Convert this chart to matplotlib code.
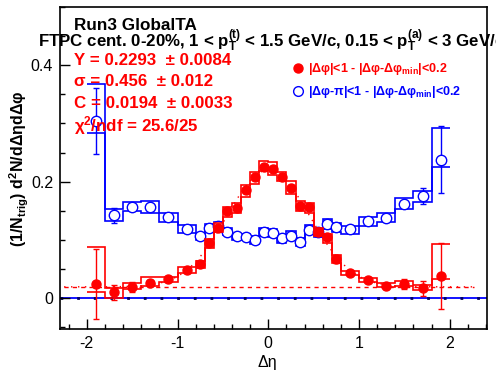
import numpy as np
import matplotlib
matplotlib.use('Agg')
import matplotlib.pyplot as plt
from matplotlib.lines import Line2D
from matplotlib.ticker import MultipleLocator, FuncFormatter

plt.rcParams['font.family'] = ['Liberation Sans', 'DejaVu Sans']
plt.rcParams['mathtext.fontset'] = 'custom'
plt.rcParams['mathtext.rm'] = 'Liberation Sans'
plt.rcParams['mathtext.bf'] = 'Liberation Sans:bold'
plt.rcParams['mathtext.it'] = 'Liberation Sans:italic'
plt.rcParams['axes.unicode_minus'] = False

# bin centres and edges in delta eta
eta = [-1.9, -1.7, -1.5, -1.3, -1.1, -0.9,
       -0.75, -0.65, -0.55, -0.45, -0.35, -0.25, -0.15, -0.05,
       0.05, 0.15, 0.25, 0.35, 0.45, 0.55, 0.65, 0.75,
       0.9, 1.1, 1.3, 1.5, 1.7, 1.9]
edges = [-2.0, -1.8, -1.6, -1.4, -1.2, -1.0, -0.8,
         -0.7, -0.6, -0.5, -0.4, -0.3, -0.2, -0.1, 0.0,
         0.1, 0.2, 0.3, 0.4, 0.5, 0.6, 0.7, 0.8,
         1.0, 1.2, 1.4, 1.6, 1.8, 2.0]

# near side (red, filled)
near_y = [0.025, 0.010, 0.019, 0.026, 0.033, 0.0485,
          0.059, 0.094, 0.120, 0.150, 0.155, 0.185, 0.2075, 0.226,
          0.222, 0.2075, 0.190, 0.158, 0.156, 0.113, 0.105, 0.067,
          0.043, 0.031, 0.020, 0.024, 0.017, 0.038]
near_err = [0.060, 0.013, 0.008, 0.005, 0.004, 0.004,
            0.004, 0.005, 0.005, 0.005, 0.005, 0.005, 0.005, 0.005,
            0.005, 0.005, 0.005, 0.005, 0.005, 0.005, 0.005, 0.007,
            0.004, 0.004, 0.005, 0.009, 0.0125, 0.056]
near_hi = [0.087, 0.017, 0.026, 0.036, 0.037, 0.053,
           0.064, 0.102, 0.129, 0.156, 0.163, 0.194, 0.217, 0.236,
           0.233, 0.217, 0.202, 0.167, 0.163, 0.120, 0.111, 0.074,
           0.046, 0.035, 0.026, 0.029, 0.022, 0.093]
near_lo = [0.010, 0.001, 0.015, 0.021, 0.0285, 0.044,
           0.052, 0.086, 0.114, 0.140, 0.147, 0.174, 0.196, 0.219,
           0.212, 0.202, 0.179, 0.150, 0.146, 0.107, 0.094, 0.061,
           0.040, 0.027, 0.019, 0.020, 0.0135, 0.0325]

# away side (blue, open)
away_y = [0.304, 0.142, 0.157, 0.156, 0.140, 0.118,
          0.106, 0.121, 0.124, 0.114, 0.106, 0.105, 0.100, 0.114,
          0.112, 0.103, 0.106, 0.097, 0.117, 0.114, 0.127, 0.122,
          0.118, 0.132, 0.138, 0.161, 0.1755, 0.238]
away_err = [0.057, 0.0135, 0.005, 0.005, 0.005, 0.005,
            0.005, 0.005, 0.005, 0.005, 0.005, 0.005, 0.005, 0.005,
            0.005, 0.005, 0.005, 0.005, 0.005, 0.005, 0.005, 0.005,
            0.005, 0.005, 0.005, 0.006, 0.013, 0.057]
away_hi = [0.367, 0.153, 0.165, 0.166, 0.146, 0.125,
           0.111, 0.127, 0.130, 0.120, 0.111, 0.110, 0.107, 0.120,
           0.118, 0.109, 0.1155, 0.103, 0.125, 0.118, 0.1355, 0.129,
           0.124, 0.139, 0.146, 0.1715, 0.184, 0.293]
away_lo = [0.283, 0.133, 0.150, 0.147, 0.131, 0.1115,
           0.100, 0.114, 0.114, 0.1086, 0.100, 0.099, 0.093, 0.1075,
           0.1046, 0.0954, 0.099, 0.0897, 0.110, 0.1057, 0.118, 0.114,
           0.110, 0.124, 0.130, 0.1527, 0.165, 0.226]

# gaussian fit parameters
fit_Y = 0.2293
fit_sigma = 0.456
fit_C = 0.0194

W, H = 496, 374
fig = plt.figure(figsize=(W / 100, H / 100), dpi=100)
ax = fig.add_axes([60 / W, 1 - 329 / H, 427 / W, 322 / H])

red = (1, 0, 0)
blue = (0, 0, 1)

# zero line
ax.axhline(0, color=blue, lw=1.3, zorder=1)
ax.axhline(0, color='#000060', lw=2.0, ls=(0, (1, 5)), zorder=1)

# away side
ax.stairs(away_hi, edges, baseline=None, color=blue, lw=1.2, zorder=2)
ax.stairs(away_lo, edges, baseline=None, color=blue, lw=1.2, zorder=2)
ax.errorbar(eta, away_y, yerr=away_err, fmt='o', mfc='white', mec=blue,
            ecolor=blue, ms=7.5, mew=1.0, elinewidth=1.0, capsize=2.5,
            capthick=1.0, zorder=3)

# near side
ax.stairs(near_hi, edges, baseline=None, color=red, lw=1.2, zorder=4)
ax.stairs(near_lo, edges, baseline=None, color=red, lw=1.2, zorder=4)
ax.errorbar(eta, near_y, yerr=near_err, fmt='o', mfc=red, mec=red,
            ecolor=red, ms=6.5, mew=1.0, elinewidth=1.0, capsize=2.5,
            capthick=1.0, zorder=5)

# fit curve and constant
xf = np.linspace(-2.25, 2.25, 300)
yf = fit_C + fit_Y / (np.sqrt(2 * np.pi) * fit_sigma) * np.exp(-xf ** 2 / (2 * fit_sigma ** 2))
ax.plot(xf, yf, color=red, lw=1.0, ls=(0, (1, 4)), zorder=4)
ax.plot([-2.25, 2.27], [fit_C, fit_C], color=red, lw=1.0, ls=(0, (3, 3)), zorder=4)

ax.set_xlim(-2.295, 2.41)
ax.set_ylim(-0.053, 0.5)

ax.xaxis.set_major_locator(MultipleLocator(1))
ax.xaxis.set_minor_locator(MultipleLocator(0.2))
ax.yaxis.set_major_locator(MultipleLocator(0.2))
ax.yaxis.set_minor_locator(MultipleLocator(0.05))
ax.yaxis.set_major_formatter(FuncFormatter(lambda v, p: '%g' % round(v, 3)))
ax.tick_params(which='both', direction='in', top=False, right=False, width=1.0)
ax.tick_params(which='major', length=7, labelsize=11.5, pad=5)
ax.tick_params(which='minor', length=3.5)
for s in ax.spines.values():
    s.set_linewidth(1.2)

ax.set_xlabel('Δη', fontsize=11.5)
ax.xaxis.set_label_coords((267 - 60) / 427, (329 - 355) / 322)
ax.set_ylabel(r'(1/N$_{\mathbf{trig}}$) d$^{\mathbf{2}}$N/dΔηdΔφ', fontsize=11.5,
              fontweight='bold')
ax.yaxis.set_label_coords((31 - 60) / 427, (329 - 169) / 322)

fig.text(74 / W, 1 - 30 / H, 'Run3 GlobalTA', fontsize=12.3, fontweight='bold',
         va='baseline')
fig.text(38 / W, 1 - 47 / H,
         r'FTPC cent. 0-20%, 1 < $\mathbf{p_T^{(t)}}$ < 1.5 GeV/c, 0.15 < $\mathbf{p_T^{(a)}}$ < 3 GeV/c',
         fontsize=12.2, fontweight='bold', va='baseline')

fit_lines = ['Y = 0.2293  ± 0.0084', 'σ = 0.456  ± 0.012',
             'C = 0.0194  ± 0.0033', r'χ$^{\mathbf{2}}$/ndf = 25.6/25']
for txt, yb in zip(fit_lines, [65, 86.5, 108, 131]):
    fig.text(74 / W, 1 - yb / H, txt, fontsize=12.2, fontweight='bold',
             color=red, va='baseline')

handles = [Line2D([], [], ls='none', marker='o', mfc=red, mec=red, ms=6.5),
           Line2D([], [], ls='none', marker='o', mfc='white', mec=blue, ms=7)]
labels = [r'|Δφ|<1 - |Δφ-Δφ$_{\mathbf{min}}$|<0.2',
          r'|Δφ-π|<1 - |Δφ-Δφ$_{\mathbf{min}}$|<0.2']
leg = fig.legend(handles, labels, loc='upper left',
                 bbox_to_anchor=(285 / W, 1 - 55 / H), frameon=False,
                 handlelength=1.0, handletextpad=0.35, borderpad=0,
                 labelspacing=0.55, prop={'size': 9.0, 'weight': 'bold'})
for t, c in zip(leg.get_texts(), [red, blue]):
    t.set_color(c)

fig.savefig('out.png', dpi=100)
